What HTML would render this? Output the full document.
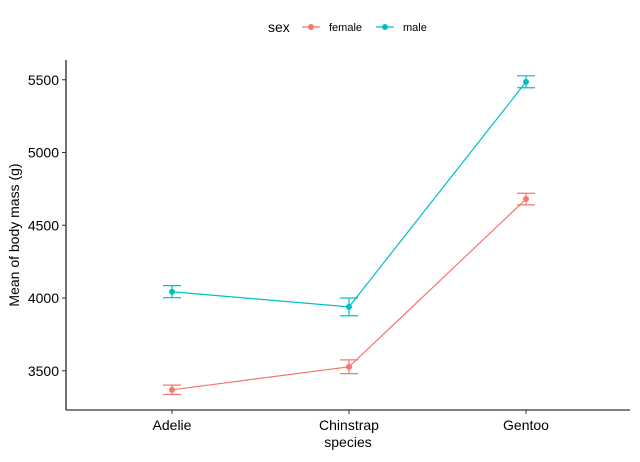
<!DOCTYPE html>
<html><head><meta charset="utf-8"><style>
body{margin:0;background:#fff;font-family:"Liberation Sans",Arial,sans-serif}
</style></head><body>
<svg id="chart" width="640" height="457" xmlns="http://www.w3.org/2000/svg" font-family="Liberation Sans, Arial, sans-serif"></svg>
<script>
const categories=["Adelie","Chinstrap","Gentoo"];
const seriesNames=["female","male"];
const femaleMean=[3369,3527,4680];
const femaleLo=[3337,3480,4640];
const femaleHi=[3401,3575,4720];
const maleMean=[4043,3939,5485];
const maleLo=[4002,3878,5445];
const maleHi=[4085,4000,5527];
const yTicks=[3500,4000,4500,5000,5500];
const colors=["#F8766D","#00BFC4"];
const svg=document.getElementById('chart');
const NS="http://www.w3.org/2000/svg";
function el(t,a,p){const e=document.createElementNS(NS,t);for(const k in a)e.setAttribute(k,a[k]);(p||svg).appendChild(e);return e;}
const xPos=i=>172+i*177;
const y=v=>298-(v-4000)*0.1455;
// axes
let e=el('line',{x1:66,y1:60,x2:66,y2:410,stroke:'#000','stroke-width':1.1});


e=el('line',{x1:66,y1:410,x2:630,y2:410,stroke:'#000','stroke-width':1.1});


yTicks.forEach(t=>{
 el('line',{x1:62,x2:66,y1:y(t),y2:y(t),stroke:'#333'});
 const tx=el('text',{x:59,y:y(t)+5,'text-anchor':'end','font-size':14,fill:'#000'});
 tx.textContent=t;
 
 
});
categories.forEach((c,i)=>{
 el('line',{x1:xPos(i),x2:xPos(i),y1:410,y2:414,stroke:'#333'});
 const tx=el('text',{x:xPos(i),y:430,'text-anchor':'middle','font-size':14,fill:'#000'});
 tx.textContent=c;
 
 
});
let t=el('text',{x:348,y:447,'text-anchor':'middle','font-size':14});t.textContent='species';


t=el('text',{x:0,y:0,'text-anchor':'middle','font-size':14,transform:'translate(19,235) rotate(-90)'});t.textContent='Mean of body mass (g)';


const data=[[femaleMean,femaleLo,femaleHi],[maleMean,maleLo,maleHi]];
data.forEach((s,si)=>{
 const g=el('g',{});
 
 
 el('polyline',{points:s[0].map((v,i)=>xPos(i)+','+y(v)).join(' '),fill:'none',stroke:colors[si],'stroke-width':1.2},g);
 s[0].forEach((v,i)=>{
  const x=xPos(i);
  el('line',{x1:x,x2:x,y1:y(s[1][i]),y2:y(s[2][i]),stroke:colors[si],'stroke-width':1.2},g);
  el('line',{x1:x-9,x2:x+9,y1:y(s[1][i]),y2:y(s[1][i]),stroke:colors[si],'stroke-width':1.2},g);
  el('line',{x1:x-9,x2:x+9,y1:y(s[2][i]),y2:y(s[2][i]),stroke:colors[si],'stroke-width':1.2},g);
  const c=el('circle',{cx:x,cy:y(v),r:3,fill:colors[si]},g);
  
  
 });
});
// legend
const lg=el('g',{});


t=el('text',{x:268,y:32,'font-size':14},lg);t.textContent='sex';
const lx=[302,376];
seriesNames.forEach((n,i)=>{
 const g=el('g',{},lg);
 
 
 el('line',{x1:lx[i],x2:lx[i]+18,y1:27,y2:27,stroke:colors[i],'stroke-width':1.2},g);
 el('circle',{cx:lx[i]+9,cy:27,r:3,fill:colors[i]},g);
 const tt=el('text',{x:lx[i]+27,y:31,'font-size':11},g);tt.textContent=n;
});
</script>
</body></html>
